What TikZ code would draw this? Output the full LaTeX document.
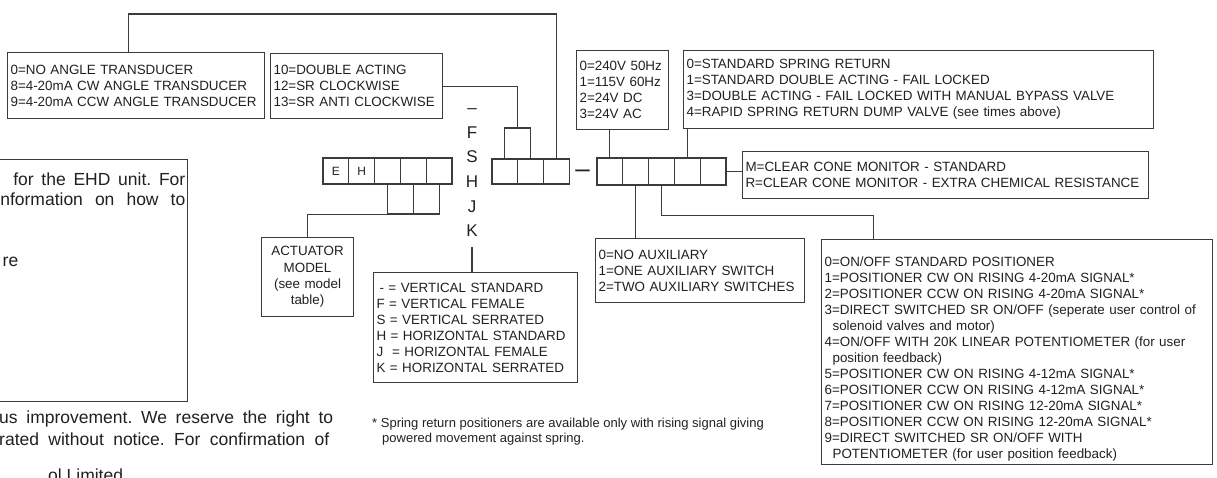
\documentclass[tikz,border=0pt]{standalone}
\usepackage{fontspec}
\setmainfont{Liberation Sans}
\usetikzlibrary{positioning}
\frenchspacing

\definecolor{linegray}{HTML}{3C3C3C}
\definecolor{inkgray}{HTML}{231F20}

\tikzset{
  optbox/.style={draw=linegray, line width=1.1pt, anchor=north west, inner xsep=3pt, inner ysep=0pt,
    align=left, text=inkgray, font=\fontsize{13.4}{16}\selectfont},
  cell/.style={draw=linegray, line width=1.1pt, minimum width=25.8pt, minimum height=26pt, inner sep=0pt,
    text=inkgray, font=\fontsize{12}{12}\selectfont},
  wire/.style={draw=linegray, line width=1.1pt},
  letter/.style={inner sep=2pt, text=inkgray, font=\fontsize{17}{17}\selectfont},
  bodytext/.style={inner sep=0pt, text=inkgray, font=\fontsize{17.5}{21}\selectfont},
}

\begin{document}
\begin{tikzpicture}[x=1pt, y=-1pt]
\useasboundingbox (0,0) rectangle (1217,477);

% --- Option boxes above the code ---
\node[optbox, text width=251pt, minimum height=66pt] (angle) at (7,52)
  {0=NO ANGLE TRANSDUCER\\8=4-20mA CW ANGLE TRANSDUCER\\9=4-20mA CCW ANGLE TRANSDUCER};
\node[optbox, text width=166pt, minimum height=65pt] (dblact) at (270,53)
  {10=DOUBLE ACTING\\12=SR CLOCKWISE\\13=SR ANTI CLOCKWISE};
\node[optbox, text width=86pt, minimum height=79pt] (volt) at (576,50)
  {0=240V 50Hz\\1=115V 60Hz\\2=24V DC\\3=24V AC};
\node[optbox, text width=464pt, minimum height=78pt] (spring) at (683,50)
  {0=STANDARD SPRING RETURN\\1=STANDARD DOUBLE ACTING - FAIL LOCKED\\
   3=DOUBLE ACTING - FAIL LOCKED WITH MANUAL BYPASS VALVE\\4=RAPID SPRING RETURN DUMP VALVE (see times above)};
\node[optbox, text width=400pt, minimum height=47pt] (monitor) at (742,151)
  {M=CLEAR CONE MONITOR - STANDARD\\R=CLEAR CONE MONITOR - EXTRA CHEMICAL RESISTANCE};

% --- Code cells ---
\foreach \ltr [count=\i] in {E,H,{},{},{}}
  \node[cell] (eh\i) at ({323+25.8*(\i-0.5)},171) {\ltr};
\foreach \i in {1,2}
  \node[cell, minimum height=30pt] (ehlow\i) at ({387.5+25.8*(\i-0.5)},199) {};

\foreach \i in {1,2,3}
  \node[cell, minimum height=25pt] (dir\i) at ({492+25.8*(\i-0.5)},171.5) {};
\node[cell, minimum height=31pt] (dirtop) at (517.8,143.5) {};

\node[inner sep=0pt, text=inkgray, font=\fontsize{26}{26}\selectfont] (sep) at (582.5,174) {–};

\foreach \i in {1,...,5}
  \node[cell, minimum height=27pt] (opt\i) at ({597+25.8*(\i-0.5)},171.5) {};

% mounting letters
\node[letter] (ltr1) at (472,111) {–};
\foreach \ltr [count=\i from 2] in {F,S,H,J,K}
  \node[letter] (ltr\i) at (472,{132.5+24.6*(\i-2)}) {\ltr};

% --- Option boxes below the code ---
\node[optbox, align=center, text width=86pt, minimum height=79pt, font=\fontsize{13.4}{16.3}\selectfont] (model) at (261,237)
  {ACTUATOR\\MODEL\\(see model\\table)};
\node[optbox, text width=198pt, minimum height=110pt] (mount) at (373,272)
  {\hspace*{3pt}-{} = VERTICAL STANDARD\\F = VERTICAL FEMALE\\S = VERTICAL SERRATED\\
   H = HORIZONTAL STANDARD\\J~~= HORIZONTAL FEMALE\\K = HORIZONTAL SERRATED};
\node[optbox, text width=203pt, minimum height=64pt] (aux) at (595,238)
  {0=NO AUXILIARY\\1=ONE AUXILIARY SWITCH\\2=TWO AUXILIARY SWITCHES};
\node[optbox, text width=385pt, minimum height=225pt] (posn) at (821,239)
  {\rule{0pt}{24pt}0=ON/OFF STANDARD POSITIONER\\
   1=POSITIONER CW ON RISING 4-20mA SIGNAL*\\
   2=POSITIONER CCW ON RISING 4-20mA SIGNAL*\\
   3=DIRECT SWITCHED SR ON/OFF (seperate user control of\\
   \hspace*{8pt}solenoid valves and motor)\\
   4=ON/OFF WITH 20K LINEAR POTENTIOMETER (for user\\
   \hspace*{8pt}position feedback)\\
   5=POSITIONER CW ON RISING 4-12mA SIGNAL*\\
   6=POSITIONER CCW ON RISING 4-12mA SIGNAL*\\
   7=POSITIONER CW ON RISING 12-20mA SIGNAL*\\
   8=POSITIONER CCW ON RISING 12-20mA SIGNAL*\\
   9=DIRECT SWITCHED SR ON/OFF WITH\\
   \hspace*{8pt}POTENTIOMETER (for user position feedback)};

\node[anchor=north west, align=left, inner sep=0pt, text=inkgray, font=\fontsize{13}{14.5}\selectfont] (note) at (372,418)
  {* Spring return positioners are available only with rising signal giving\\
   \hspace*{10pt}powered movement against spring.};

% --- Connectors ---
\draw[wire] ([xshift=-7.5pt]angle.north) -- ++(0,-38) -| (dir3.north);
\draw[wire] (dblact.east) -| (dirtop.north);
\draw[wire] (ehlow1.south west) -| (model.north);
\draw[wire] ([yshift=-8pt]ltr6.south) -- (ltr6.south |- mount.north);
\draw[wire] (opt1.north) -- (opt1.north |- volt.south);
\draw[wire] (opt4.north) -- (opt4.north |- spring.south);
\draw[wire] (opt5.east) -- (opt5.east -| monitor.west);
\draw[wire] (opt2.south) -- (opt2.south |- aux.north);
\draw[wire] (opt3.south) -- ++(0,30) -| ([xshift=-143.5pt]posn.north);

% --- Cut-off page text on the left ---
\node[draw=linegray, line width=1.1pt, minimum width=200pt, minimum height=242pt, anchor=north east, inner sep=0pt] (info) at (188,159) {};
\node[bodytext, anchor=base east] (info1) at (185.5,185) {\makebox[172pt][s]{for the EHD unit. For}};
\node[bodytext, anchor=base east] (info2) at (185.5,205) {\makebox[185pt][s]{nformation on how to}};
\node[bodytext, anchor=base east] (info3) at (18.5,266) {re};

\node[bodytext, anchor=base west] (foot1) at (-1,423.5) {\makebox[334pt][s]{us improvement. We reserve the right to}};
\node[bodytext, anchor=base west] (foot2) at (-1,445.5) {\makebox[330pt][s]{rated without notice. For confirmation of}};
\node[bodytext, anchor=base west] (foot3) at (48,481.5) {ol Limited};

\end{tikzpicture}
\end{document}
